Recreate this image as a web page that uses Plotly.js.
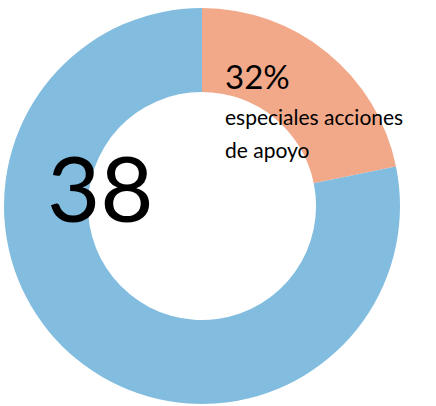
<!DOCTYPE html>
<html>
<head>
<meta charset="utf-8">
<script src="https://cdn.plot.ly/plotly-3.0.1.min.js"></script>
<style>html,body{margin:0;padding:0;background:#fff;}#chart{width:436px;height:406px;}</style>
</head>
<body>
<div id="chart"></div>
<script>
var categories = ["especiales acciones de apoyo", "resto"];
var values = [21.8, 78.2];
var colors = ["#F2A98A", "#82BDE0"];
var bigNumber = "38";
var sliceLabel = "32%";
var sliceText = ["especiales acciones", "de apoyo"];

var W = 436, H = 406;
function px(x){ return x / W; }
function py(y){ return 1 - y / H; }

var trace = {
  type: "pie",
  labels: categories,
  values: values,
  marker: {colors: colors, line: {width: 0}},
  hole: 0.576,
  sort: false,
  direction: "clockwise",
  rotation: 0,
  textinfo: "none",
  hoverinfo: "none",
  showlegend: false,
  domain: {x: [px(4), px(400)], y: [py(404), py(8)]}
};

var font = "Lato, 'Open Sans', sans-serif";
var layout = {
  width: W, height: H,
  margin: {l: 0, r: 0, t: 0, b: 0},
  paper_bgcolor: "#fff",
  showlegend: false,
  annotations: [
    {text: bigNumber, xref: "paper", yref: "paper", x: px(45), y: py(186), xanchor: "left", yanchor: "middle", showarrow: false, font: {family: font, size: 92, weight: 400, color: "#000"}},
    {text: sliceLabel, xref: "paper", yref: "paper", x: px(223), y: py(76), xanchor: "left", yanchor: "middle", showarrow: false, font: {family: font, size: 33, weight: 400, color: "#000"}},
    {text: sliceText[0], xref: "paper", yref: "paper", x: px(223), y: py(116), xanchor: "left", yanchor: "middle", showarrow: false, font: {family: font, size: 21, weight: 400, color: "#000"}},
    {text: sliceText[1], xref: "paper", yref: "paper", x: px(223), y: py(149), xanchor: "left", yanchor: "middle", showarrow: false, font: {family: font, size: 21, weight: 400, color: "#000"}}
  ]
};
Plotly.newPlot("chart", [trace], layout, {staticPlot: true, displayModeBar: false});
</script>
</body>
</html>
